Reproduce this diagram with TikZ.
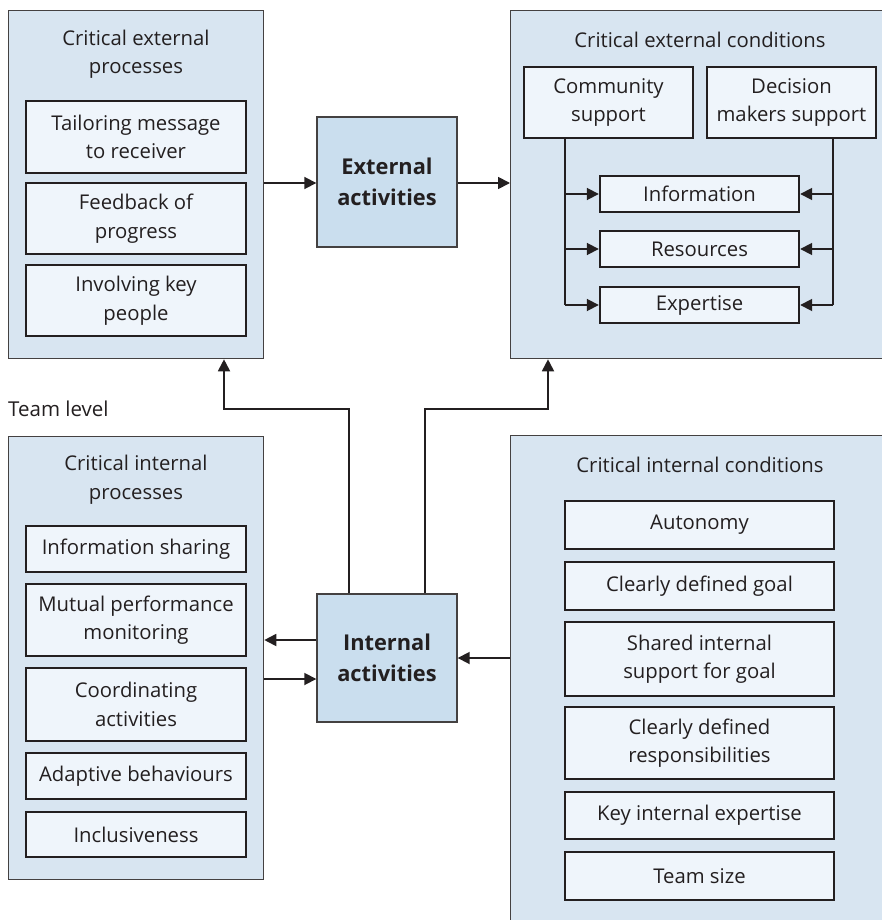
\documentclass[tikz,border=0pt]{standalone}
\usepackage{fontspec}
\setmainfont{Open Sans}
\usetikzlibrary{arrows.meta}
\definecolor{panelfill}{HTML}{D8E5F1}
\definecolor{boxfill}{HTML}{EFF5FB}
\definecolor{actfill}{HTML}{CADEEE}
\definecolor{ink}{HTML}{231F20}
\begin{document}
\begin{tikzpicture}[x=1pt,y=-1pt,
  panel/.style={draw=ink!85, line width=1.3pt, fill=panelfill, anchor=north west, inner sep=0pt},
  ptitle/.style={align=center, font=\fontsize{20.3}{28.5}\selectfont, text=ink},
  ibox/.style={draw=ink, line width=2.4pt, fill=boxfill, align=center, inner sep=0pt,
    font=\fontsize{20.3}{28.5}\selectfont, text=ink},
  actbox/.style={draw=ink!85, line width=1.4pt, fill=actfill, align=center, inner sep=0pt,
    minimum width=140pt, font=\bfseries\fontsize{21.8}{31}\selectfont, text=ink},
  conn/.style={draw=ink, line width=1.8pt, -{Triangle[length=12pt,width=12pt]}},
  link/.style={draw=ink, line width=1.8pt}]
\useasboundingbox (0,0) rectangle (882,920);
\clip (0,0) rectangle (882,920);

% ---- panels ----
\node[panel, minimum width=255pt, minimum height=348pt] (p1) at (8,10) {};
\node[panel, minimum width=400pt, minimum height=348pt] (p2) at (510,10) {};
\node[panel, minimum width=255pt, minimum height=443pt] (p3) at (8,436) {};
\node[panel, minimum width=400pt, minimum height=520pt] (p4) at (510,435) {};

% ---- critical external processes ----
\node[ptitle] (t1) at (136,54) {Critical external\\processes};
\node[ibox, minimum width=220pt, minimum height=72pt] (e1) at (136,137) {Tailoring message\\to receiver};
\node[ibox, minimum width=220pt, minimum height=71pt] (e2) at (136,218.5) {Feedback of\\progress};
\node[ibox, minimum width=220pt, minimum height=71pt] (e3) at (136,300.5) {Involving key\\people};

% ---- critical external conditions ----
\node[ptitle] (t2) at (700,40) {Critical external conditions};
\node[ibox, minimum width=169pt, minimum height=71pt] (cs) at (608.5,102.5) {Community\\support};
\node[ibox, minimum width=169pt, minimum height=71pt] (dm) at (791.5,102.5) {Decision\\makers support};
\node[ibox, minimum width=199pt, minimum height=36pt] (ci) at (699.5,194) {Information};
\node[ibox, minimum width=199pt, minimum height=36pt] (cr) at (699.5,249) {Resources};
\node[ibox, minimum width=199pt, minimum height=36pt] (ce) at (699.5,305) {Expertise};

\coordinate (csl) at (565,0);
\coordinate (dmr) at (833,0);
\draw[link] (cs.south -| csl) -- (ce.west -| csl);
\draw[link] (dm.south -| dmr) -- (ce.east -| dmr);
\foreach \b in {ci,cr,ce}{
  \draw[conn] (\b.west -| csl) -- (\b.west);
  \draw[conn] (\b.east -| dmr) -- (\b.east);
}

% ---- activities ----
\node[actbox, minimum height=130pt] (ea) at (387,182) {External\\activities};
\node[actbox, minimum height=128pt] (ia) at (387,658) {Internal\\activities};

\coordinate (eay) at (0,183);
\draw[conn] (p1.east |- eay) -- (ea.west |- eay);
\draw[conn] (ea.east |- eay) -- (p2.west |- eay);

% ---- team level ----
\node[anchor=west, font=\fontsize{20.5}{24}\selectfont, text=ink, inner sep=0pt] (tl) at (8,409) {Team level};

\coordinate (upl) at (224,409);
\coordinate (upr) at (548,409);
\draw[conn] ([xshift=-38pt]ia.north) |- (upl) -- (upl |- p1.south);
\draw[conn] ([xshift=38pt]ia.north) |- (upr) -- (upr |- p2.south);

% ---- critical internal processes ----
\node[ptitle] (t3) at (136,479.5) {Critical internal\\processes};
\node[ibox, minimum width=220pt, minimum height=46pt] (i1) at (136,549) {Information sharing};
\node[ibox, minimum width=220pt, minimum height=72pt] (i2) at (136,620) {Mutual performance\\monitoring};
\node[ibox, minimum width=220pt, minimum height=73pt] (i3) at (136,704.5) {Coordinating\\activities};
\node[ibox, minimum width=220pt, minimum height=46pt] (i4) at (136,776) {Adaptive behaviours};
\node[ibox, minimum width=220pt, minimum height=45pt] (i5) at (136,834.5) {Inclusiveness};

\coordinate (iaout) at (0,640);
\coordinate (iain) at (0,679);
\draw[conn] (ia.west |- iaout) -- (p3.east |- iaout);
\draw[conn] (p3.east |- iain) -- (ia.west |- iain);

% ---- critical internal conditions ----
\node[ptitle] (t4) at (700,465) {Critical internal conditions};
\node[ibox, minimum width=269pt, minimum height=48pt] (k1) at (699.5,525) {Autonomy};
\node[ibox, minimum width=269pt, minimum height=48pt] (k2) at (699.5,586) {Clearly defined goal};
\node[ibox, minimum width=269pt, minimum height=74pt] (k3) at (699.5,659) {Shared internal\\support for goal};
\node[ibox, minimum width=269pt, minimum height=72pt] (k4) at (699.5,743) {Clearly defined\\responsibilities};
\node[ibox, minimum width=269pt, minimum height=47pt] (k5) at (699.5,815.5) {Key internal expertise};
\node[ibox, minimum width=269pt, minimum height=48pt] (k6) at (699.5,876) {Team size};

\coordinate (icy) at (0,658);
\draw[conn] (p4.west |- icy) -- (ia.east |- icy);
\end{tikzpicture}
\end{document}
